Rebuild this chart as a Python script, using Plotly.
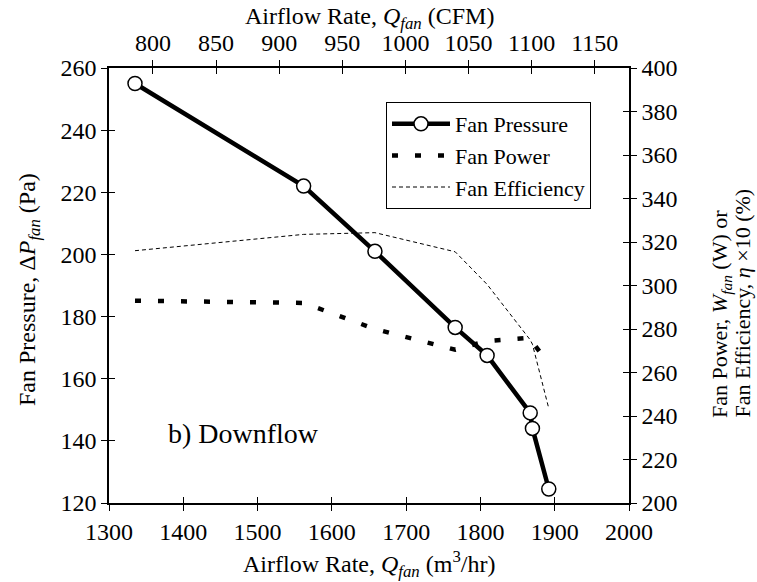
import plotly.graph_objects as go

# Data
airflow_m3h = [1335, 1562, 1658, 1766, 1809, 1867, 1870, 1892]
fan_pressure = [255, 222, 201, 176.5, 167.5, 149, 144, 124.5]
fan_power = [293, 292, 280, 270.5, 274.5, 276, 274, 264]
fan_efficiency = [316, 323.5, 324.3, 315.5, 300.5, 275, 273, 243.5]

x_ticks = [1300, 1400, 1500, 1600, 1700, 1800, 1900, 2000]
cfm_ticks = [800, 850, 900, 950, 1000, 1050, 1100, 1150]
left_ticks = [120, 140, 160, 180, 200, 220, 240, 260]
right_ticks = [200, 220, 240, 260, 280, 300, 320, 340, 360, 380, 400]
M3H_PER_CFM = 1.699

FONT = "Liberation Serif, Times New Roman, serif"
TICKF = dict(family=FONT, size=24, color="black")
TITLE_SIZE = 24

W, H = 757, 582
L, R, T, B = 109, 629, 68, 503   # plot area in page pixels


def px(x):
    return (x - L) / (R - L)


def py(y):
    return (B - y) / (B - T)


fig = go.Figure()
fig.add_trace(go.Scatter(
    x=airflow_m3h, y=fan_pressure, name="Fan Pressure", mode="lines+markers",
    line=dict(color="black", width=4.5),
    marker=dict(symbol="circle", size=14, color="white", line=dict(color="black", width=1.5)),
    xaxis="x", yaxis="y"))
fig.add_trace(go.Scatter(
    x=airflow_m3h, y=fan_power, name="Fan Power", mode="lines",
    line=dict(color="black", width=4.5, dash="6px,17px"),
    xaxis="x", yaxis="y2"))
fig.add_trace(go.Scatter(
    x=airflow_m3h, y=fan_efficiency, name="Fan Efficiency", mode="lines",
    line=dict(color="black", width=1, dash="4px,3px"),
    xaxis="x", yaxis="y2"))
# empty traces to register the helper axes (top CFM axis, inner tick axes)
for xa, ya in [("x2", "y"), ("x3", "y"), ("x4", "y"), ("x", "y3"), ("x", "y4")]:
    fig.add_trace(go.Scatter(x=[], y=[], showlegend=False, xaxis=xa, yaxis=ya, hoverinfo="skip"))

xr = [1300, 2000]
cfm_r = [1300 / M3H_PER_CFM, 2000 / M3H_PER_CFM]
common = dict(showgrid=False, zeroline=False, ticklen=6, tickwidth=1.3, tickcolor="black")

fig.update_layout(
    width=W, height=H,
    margin=dict(l=L, r=W - R, t=T, b=H - B),
    paper_bgcolor="white", plot_bgcolor="white",
    font=dict(family=FONT, color="black"),
    xaxis=dict(range=xr, tickvals=x_ticks, ticks="outside", showline=True, linecolor="black",
               linewidth=1.5, tickfont=TICKF, **common),
    xaxis2=dict(range=xr, tickvals=x_ticks, ticks="inside", showticklabels=False,
                overlaying="x", side="bottom", anchor="y", showline=False, **common),
    xaxis3=dict(range=cfm_r, tickvals=cfm_ticks, ticks="outside", showline=True, linecolor="black",
                linewidth=1.5, tickfont=TICKF, overlaying="x", side="top", anchor="y", **common),
    xaxis4=dict(range=cfm_r, tickvals=cfm_ticks, ticks="inside", showticklabels=False,
                overlaying="x", side="top", anchor="y", showline=False, **common),
    yaxis=dict(range=[120, 260], tickvals=left_ticks, ticks="outside", showline=True,
               linecolor="black", linewidth=1.5, tickfont=TICKF, **common),
    yaxis3=dict(range=[120, 260], tickvals=left_ticks, ticks="inside", showticklabels=False,
                overlaying="y", side="left", anchor="x", showline=False, **common),
    yaxis2=dict(range=[200, 400], tickvals=right_ticks, ticks="outside", showline=True,
                linecolor="black", linewidth=1.5, tickfont=TICKF,
                overlaying="y", side="right", anchor="x", **common),
    yaxis4=dict(range=[200, 400], tickvals=right_ticks, ticks="inside", showticklabels=False,
                overlaying="y", side="right", anchor="x", showline=False, **common),
    legend=dict(x=px(386), y=py(102), xanchor="left", yanchor="top",
                bgcolor="white", bordercolor="black", borderwidth=1,
                font=dict(family=FONT, size=22), tracegroupgap=0, itemwidth=58),
    showlegend=True,
    annotations=[
        dict(text="b) Downflow", x=px(166), y=py(433), xref="paper", yref="paper",
             xanchor="left", yanchor="middle", showarrow=False, font=dict(family=FONT, size=28)),
        dict(text="Airflow Rate, <i>Q</i><sub><i>fan</i></sub> (CFM)",
             x=0.5, y=py(18), xref="paper", yref="paper", xanchor="center", yanchor="middle",
             showarrow=False, font=dict(family=FONT, size=TITLE_SIZE)),
        dict(text="Airflow Rate, <i>Q</i><sub><i>fan</i></sub> (m<sup>3</sup>/hr)",
             x=0.5, y=py(564), xref="paper", yref="paper", xanchor="center", yanchor="middle",
             showarrow=False, font=dict(family=FONT, size=TITLE_SIZE)),
        dict(text="Fan Pressure, Δ<i>P</i><sub><i>fan</i></sub> (Pa)",
             x=px(29), y=py(290), xref="paper", yref="paper", xanchor="center", yanchor="middle",
             textangle=-90, showarrow=False, font=dict(family=FONT, size=TITLE_SIZE)),
        dict(text="Fan Power, <i>W</i><sub><i>fan</i></sub> (W) or",
             x=px(721), y=py(420), xref="paper", yref="paper", xanchor="center", yanchor="bottom",
             textangle=-90, showarrow=False, font=dict(family=FONT, size=22)),
        dict(text="Fan Efficiency, <i>η</i> ×10 (%)",
             x=px(742), y=py(420), xref="paper", yref="paper", xanchor="center", yanchor="bottom",
             textangle=-90, showarrow=False, font=dict(family=FONT, size=22)),
    ],
)

# remove the page's default body margin so the figure sits at the window origin
fig.write_html("out.html", config={"displayModeBar": False},
               post_script="document.body.style.margin='0px';")
